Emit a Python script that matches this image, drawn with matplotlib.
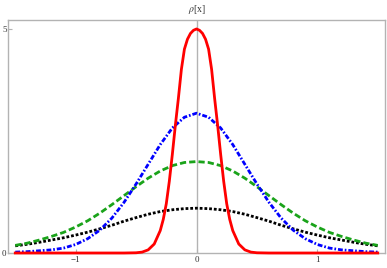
import matplotlib
matplotlib.use("Agg")
import matplotlib.pyplot as plt

# ---- data ----
x_wide = [-1.5, -1.4, -1.3, -1.2, -1.1, -1.0, -0.9, -0.8, -0.7, -0.6, -0.5, -0.4, -0.3, -0.2, -0.1,
          0.0, 0.1, 0.2, 0.3, 0.4, 0.5, 0.6, 0.7, 0.8, 0.9, 1.0, 1.1, 1.2, 1.3, 1.4, 1.5]
blue_vals = [0.02, 0.03, 0.05, 0.07, 0.11, 0.19, 0.32, 0.51, 0.78, 1.13, 1.54, 1.98, 2.42, 2.79, 3.03,
             3.12, 3.03, 2.79, 2.42, 1.98, 1.54, 1.13, 0.78, 0.51, 0.32, 0.19, 0.11, 0.07, 0.05, 0.03, 0.02]
green_vals = [0.17, 0.22, 0.29, 0.37, 0.46, 0.58, 0.72, 0.89, 1.08, 1.28, 1.48, 1.67, 1.83, 1.95, 2.02,
              2.04, 2.02, 1.95, 1.83, 1.67, 1.48, 1.28, 1.08, 0.89, 0.72, 0.58, 0.46, 0.37, 0.29, 0.22, 0.17]
black_vals = [0.16, 0.195, 0.24, 0.29, 0.34, 0.40, 0.465, 0.54, 0.62, 0.71, 0.79, 0.865, 0.925, 0.965, 0.99,
              1.0, 0.99, 0.965, 0.925, 0.865, 0.79, 0.71, 0.62, 0.54, 0.465, 0.40, 0.34, 0.29, 0.24, 0.195, 0.16]

x_red = [-1.5, -1.0, -0.6, -0.5, -0.45, -0.4, -0.35, -0.3, -0.275, -0.25, -0.225, -0.2, -0.175, -0.15,
         -0.125, -0.1, -0.075, -0.05, -0.025, 0.0, 0.025, 0.05, 0.075, 0.1, 0.125, 0.15, 0.175, 0.2,
         0.225, 0.25, 0.275, 0.3, 0.35, 0.4, 0.45, 0.5, 0.6, 1.0, 1.5]
red_vals = [0.0, 0.0, 0.0, 0.005, 0.02, 0.07, 0.2, 0.5, 0.75, 1.1, 1.6, 2.2, 2.85, 3.45,
            4.1, 4.55, 4.77, 4.9, 4.97, 5.0, 4.97, 4.9, 4.77, 4.55, 4.1, 3.45, 2.85, 2.2,
            1.6, 1.1, 0.75, 0.5, 0.2, 0.07, 0.02, 0.005, 0.0, 0.0, 0.0]

x_ticks = [-1, 0, 1]
x_tick_labels = ["\u22121", "0", "1"]
y_ticks = [0, 5]
y_tick_labels = ["0", "5"]
title_text = "$\\rho$[x]"

# ---- figure ----
plt.rcParams['lines.scale_dashes'] = False
plt.rcParams['mathtext.fontset'] = 'stix'
fig = plt.figure(figsize=(3.87, 2.68), dpi=100)
ax = fig.add_axes([8 / 387, 1 - 253 / 268, 377 / 387, 233 / 268])
ax.set_xlim(-1.56, 1.56)
ax.set_ylim(0, 5.2)

gray = '#b3b3b3'
ax.axvline(0, color=gray, lw=1.0, zorder=1)

lw = 2.0
ax.plot(x_wide, black_vals, color='black', lw=lw, dashes=(2.0, 1.4), dash_capstyle='butt', clip_on=False, zorder=3)
ax.plot(x_wide, green_vals, color='#1aa31a', lw=lw, dashes=(4.5, 2.2), dash_capstyle='butt', clip_on=False, zorder=3)
ax.plot(x_wide, blue_vals, color='#0000ff', lw=lw, dashes=(3.5, 1.4, 1.2, 1.4), dash_capstyle='butt', clip_on=False, zorder=3)
ax.plot(x_red, red_vals, color='#ff0000', lw=lw, clip_on=False, zorder=4, solid_joinstyle='round')

for s in ax.spines.values():
    s.set_color(gray)
    s.set_linewidth(1.0)

ax.set_xticks(x_ticks)
ax.set_xticklabels(x_tick_labels)
ax.set_yticks(y_ticks)
ax.set_yticklabels(y_tick_labels)
ax.tick_params(direction='in', length=3, width=0.8, color=gray, labelsize=6.5,
               labelcolor='#333333', pad=2)
for lab in ax.get_xticklabels() + ax.get_yticklabels():
    lab.set_family('Liberation Serif')
ax.tick_params(axis='y', pad=1)

fig.text(197 / 387, 1 - 10 / 268, title_text, ha='center', va='center', fontsize=7,
         color='#333333', family='Liberation Serif')

fig.savefig('out.png', dpi=100)
